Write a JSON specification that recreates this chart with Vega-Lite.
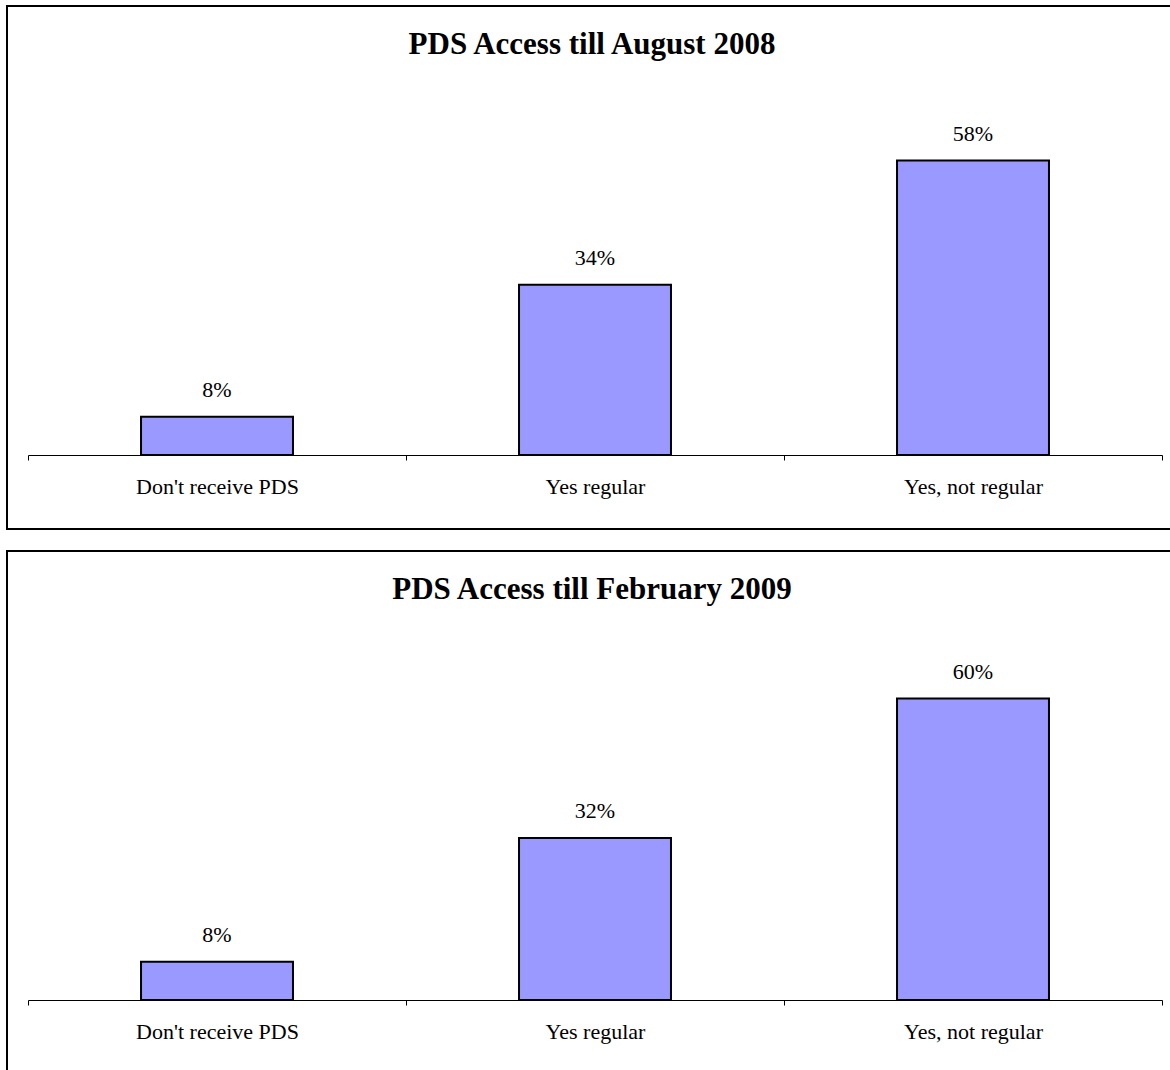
{
  "$schema": "https://vega.github.io/schema/vega-lite/v6.json",
  "padding": {"left": 6, "top": 5, "right": 0, "bottom": 0},
  "background": "white",
  "spacing": 20,
  "data": {
    "values": [
      {"period": "August 2008", "category": "Don't receive PDS", "share": 0.076},
      {"period": "August 2008", "category": "Yes regular", "share": 0.337},
      {"period": "August 2008", "category": "Yes, not regular", "share": 0.583},
      {"period": "February 2009", "category": "Don't receive PDS", "share": 0.076},
      {"period": "February 2009", "category": "Yes regular", "share": 0.321},
      {"period": "February 2009", "category": "Yes, not regular", "share": 0.597}
    ]
  },
  "vconcat": [
    {
      "title": {"text": "PDS Access till August 2008", "offset": -55},
      "width": 1170,
      "height": 523,
      "transform": [{"filter": "datum.period === 'August 2008'"}],
      "encoding": {
        "x": {"field": "category", "type": "nominal", "sort": null,
          "scale": {"range": [21, 1155], "paddingInner": 0, "paddingOuter": 0},
          "axis": {"title": null, "orient": "bottom", "offset": -74, "tickBand": "extent", "labelAngle": 0}},
        "y": {"field": "share", "type": "quantitative", "scale": {"domain": [-0.1465, 0.8891]}, "axis": null}
      },
      "layer": [
        {"mark": {"type": "bar", "width": {"band": 0.402}, "fill": "#9999FF", "stroke": "black", "strokeWidth": 2}},
        {"mark": {"type": "text", "baseline": "alphabetic", "dy": -20, "fontSize": 22, "font": "Liberation Serif", "color": "black"},
          "encoding": {"text": {"field": "share", "format": ".0%"}}}
      ]
    },
    {
      "title": {"text": "PDS Access till February 2009", "offset": -55},
      "width": 1170,
      "height": 523,
      "transform": [{"filter": "datum.period === 'February 2009'"}],
      "encoding": {
        "x": {"field": "category", "type": "nominal", "sort": null,
          "scale": {"range": [21, 1155], "paddingInner": 0, "paddingOuter": 0},
          "axis": {"title": null, "orient": "bottom", "offset": -74, "tickBand": "extent", "labelAngle": 0}},
        "y": {"field": "share", "type": "quantitative", "scale": {"domain": [-0.1465, 0.8891]}, "axis": null}
      },
      "layer": [
        {"mark": {"type": "bar", "width": {"band": 0.402}, "fill": "#9999FF", "stroke": "black", "strokeWidth": 2}},
        {"mark": {"type": "text", "baseline": "alphabetic", "dy": -20, "fontSize": 22, "font": "Liberation Serif", "color": "black"},
          "encoding": {"text": {"field": "share", "format": ".0%"}}}
      ]
    }
  ],
  "config": {
    "view": {"stroke": "black", "strokeWidth": 2},
    "font": "Liberation Serif",
    "title": {"font": "Liberation Serif", "fontSize": 31, "fontWeight": "bold", "color": "black", "anchor": "middle", "frame": "group", "baseline": "alphabetic"},
    "axis": {"grid": false, "domainColor": "black", "domainWidth": 1, "tickColor": "black", "tickSize": 5, "tickWidth": 1,
      "labelFont": "Liberation Serif", "labelFontSize": 22, "labelColor": "black", "labelBaseline": "alphabetic", "labelPadding": 33}
  }
}
